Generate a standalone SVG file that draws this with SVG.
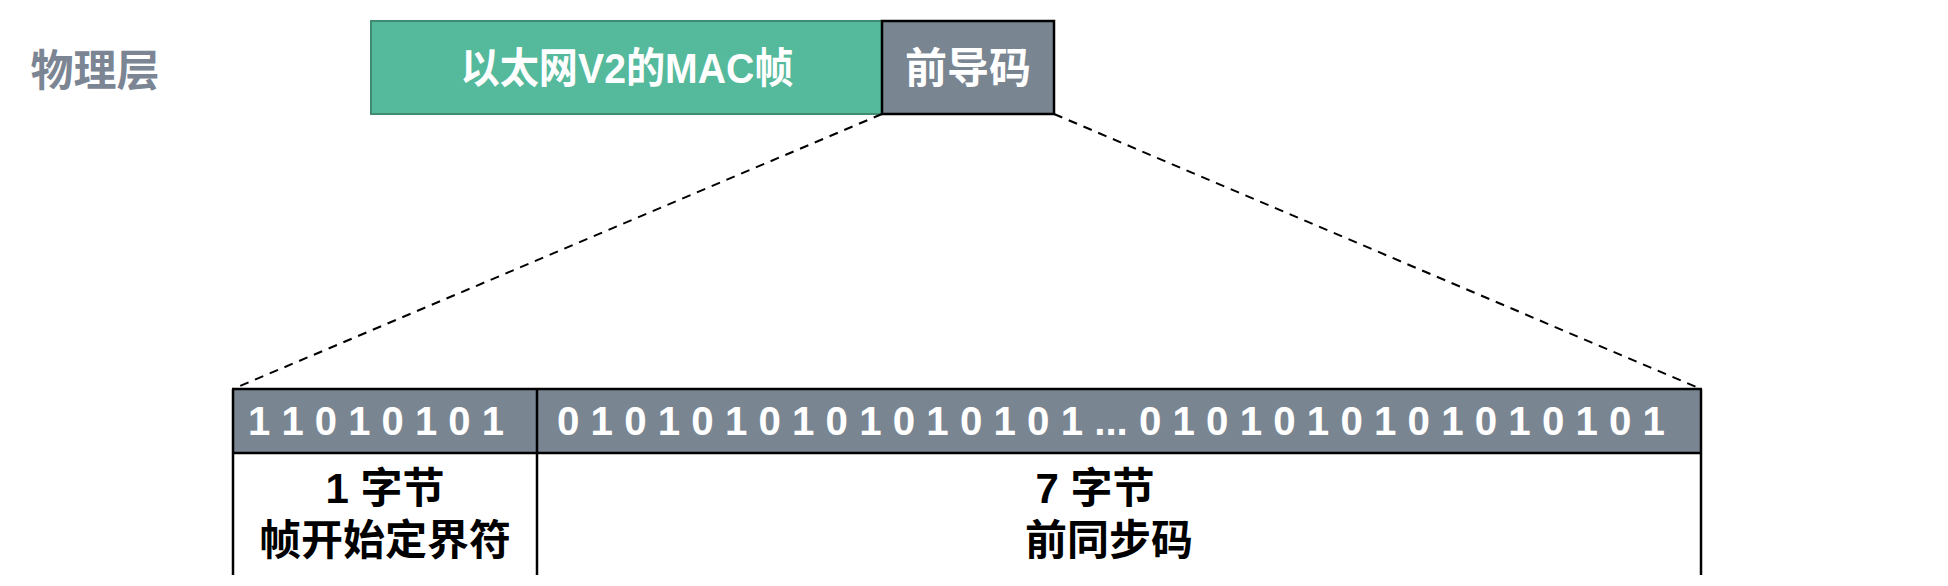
<svg xmlns="http://www.w3.org/2000/svg" width="1948" height="586" viewBox="0 0 1948 586">
<style>
.t{font-family:"Liberation Sans","Noto Sans CJK SC",sans-serif;font-weight:bold;text-anchor:middle}
.w{fill:#ffffff}
.k{fill:#000000}
.grey{fill:#7a8592}
.dash{stroke:#000;stroke-width:2;stroke-dasharray:9,7;fill:none}
.ln{stroke:#000;stroke-width:2.5;fill:none}
</style>
<rect width="1948" height="586" fill="#ffffff"/>
<g id="label-physical">
<text class="t" x="95" y="86" font-size="43" fill="#7b8593">物理层</text>
</g>
<g id="mac-frame">
<rect x="371" y="21" width="511" height="93" fill="#55b99c" stroke="#3f8c72" stroke-width="2"/>
<text class="t w" x="627" y="83" font-size="42" textLength="333" lengthAdjust="spacingAndGlyphs">以太网V2的MAC帧</text>
</g>
<g id="preamble">
<rect x="882" y="21" width="172" height="93" class="grey" stroke="#000" stroke-width="2.5"/>
<text class="t w" x="968" y="83" font-size="42">前导码</text>
</g>
<g id="connectors">
<line class="dash" x1="882" y1="114" x2="233" y2="389"/>
<line class="dash" x1="1054" y1="114" x2="1701" y2="389"/>
</g>
<g id="sfd">
<rect x="233" y="389" width="304" height="64" class="grey"/>
<text class="t w" x="376" y="435" font-size="40">1 1 0 1 0 1 0 1</text>
<text class="t k" x="385" y="503" font-size="42">1 字节</text>
<text class="t k" x="385" y="555" font-size="42">帧开始定界符</text>
</g>
<g id="sync">
<rect x="537" y="389" width="1164" height="64" class="grey"/>
<text class="t w" x="1111" y="435" font-size="40" textLength="1108" lengthAdjust="spacingAndGlyphs">0 1 0 1 0 1 0 1 0 1 0 1 0 1 0 1 ... 0 1 0 1 0 1 0 1 0 1 0 1 0 1 0 1</text>
<text class="t k" x="1095" y="503" font-size="42">7 字节</text>
<text class="t k" x="1109" y="555" font-size="42">前同步码</text>
</g>
<g id="table-lines">
<line class="ln" x1="232" y1="389" x2="1702" y2="389" stroke-width="3"/>
<line class="ln" x1="233" y1="453" x2="1701" y2="453"/>
<line class="ln" x1="233" y1="389" x2="233" y2="575"/>
<line class="ln" x1="537" y1="389" x2="537" y2="575"/>
<line class="ln" x1="1701" y1="389" x2="1701" y2="575"/>
</g>
</svg>
